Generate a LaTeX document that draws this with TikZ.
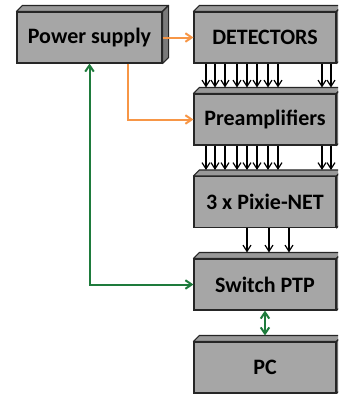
\documentclass[tikz,border=0pt]{standalone}
\usepackage{fontspec}
\setmainfont{Carlito}
\usetikzlibrary{arrows.meta, positioning, calc}
\definecolor{boxfront}{HTML}{A6A6A6}
\definecolor{boxtop}{HTML}{999999}
\definecolor{boxside}{HTML}{7A7A7A}
\definecolor{pworange}{HTML}{F79646}
\definecolor{linkgreen}{HTML}{1E7B3C}

\begin{document}
\begin{tikzpicture}[x=1pt, y=-1pt,
    block/.style={rectangle, draw=black!85, line width=1.1pt, fill=boxfront, minimum width=142pt, minimum height=51pt, inner sep=0pt, align=center, font=\fontsize{22}{26}\selectfont\bfseries},
    facetop/.style={draw=black!85, line width=1.1pt, fill=boxtop, line join=round},
    faceside/.style={draw=black!85, line width=1.1pt, fill=boxside, line join=round},
    sig/.style={-{Straight Barb[length=2.2mm, width=2.8mm]}, line width=1.2pt},
    power/.style={-{Straight Barb[length=2.2mm, width=3mm]}, line width=2pt, pworange},
    link/.style={{Straight Barb[length=2.2mm, width=3mm]}-{Straight Barb[length=2.2mm, width=3mm]}, line width=2pt, linkgreen},
]
\useasboundingbox (0,0) rectangle (338,394);
\clip (0,0) rectangle (338,394);

\node[block, minimum width=145pt] (psu) at (89.5,37.5) {Power supply};
\node[block] (det) at (265,37.5) {DETECTORS};
\node[block] (pre) at (265,119.5) {Preamplifiers};
\node[block] (pixie) at (265,202) {3 x Pixie-NET};
\node[block] (switch) at (265,284.5) {Switch PTP};
\node[block] (pc) at (265,367.5) {PC};

% 3d look
\foreach \n in {psu,det,pre,pixie,switch,pc} {
  \draw[facetop] (\n.north west) -- ++(6,-6) -- ($(\n.north east)+(6,-6)$) -- (\n.north east) -- cycle;
  \draw[faceside] (\n.north east) -- ++(6,-6) -- ($(\n.south east)+(6,-6)$) -- (\n.south east) -- cycle;
}

% signal lines
\foreach \x in {206,215,225,237,247,257,268,278,322,331} {
  \draw[sig] (\x,0 |- det.south) -- ($(\x,0 |- pre.north)+(0,-6)$);
  \draw[sig] (\x,0 |- pre.south) -- ($(\x,0 |- pixie.north)+(0,-6)$);
}
\foreach \x in {247,269,289}
  \draw[sig] (\x,0 |- pixie.south) -- ($(\x,0 |- switch.north)+(0,-6)$);

% supply
\draw[power] (psu.east) -- (det.west);
\draw[power] (128,0 |- psu.south) |- (pre.west);

% network
\draw[link] (psu.south) |- (switch.west);
\draw[link] (switch.south) -- ($(pc.north)+(0,-6)$);

\end{tikzpicture}
\end{document}
